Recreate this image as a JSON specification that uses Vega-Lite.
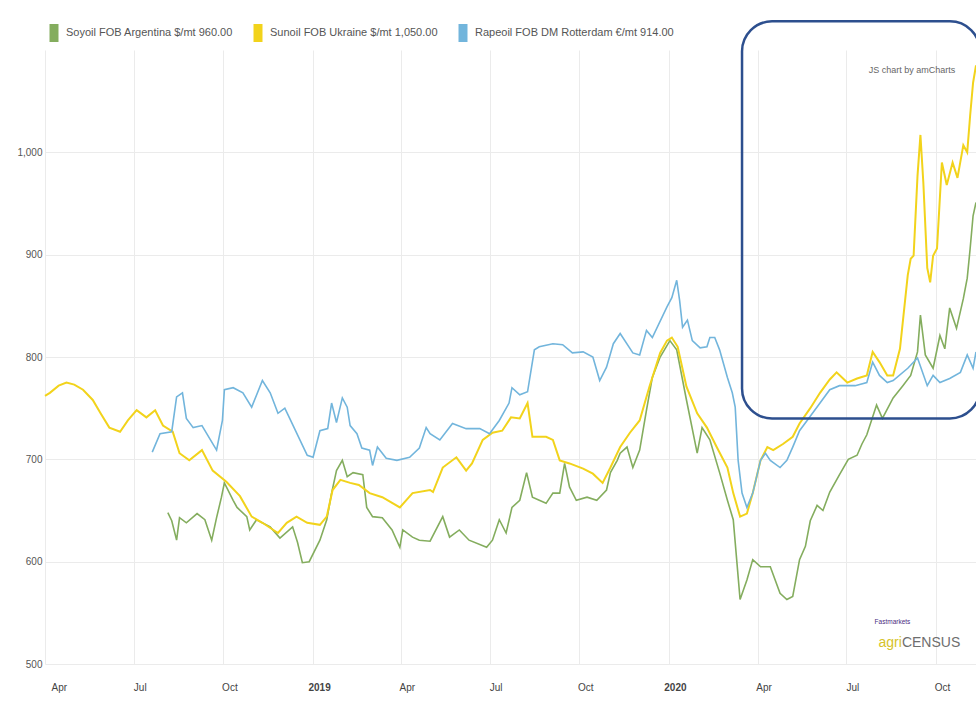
{
  "$schema": "https://vega.github.io/schema/vega-lite/v6.json",
  "width": 931,
  "height": 614,
  "autosize": {"type": "none"},
  "padding": {"left": 45, "top": 50, "right": 0, "bottom": 43},
  "background": "white",
  "config": {
    "view": {"stroke": null},
    "font": "Liberation Sans",
    "axis": {"labelFont": "Liberation Sans", "labelColor": "#555555", "labelFontSize": 10, "domain": false, "ticks": false, "gridColor": "#ebebeb", "gridWidth": 1, "title": null},
    "legend": {"labelFont": "Liberation Sans", "labelColor": "#555555", "labelFontSize": 11}
  },
  "datasets": {
    "soyoil": [
      {"date": "2018-08-05", "value": 648}, {"date": "2018-08-09", "value": 640}, {"date": "2018-08-14", "value": 621}, {"date": "2018-08-17", "value": 643},
      {"date": "2018-08-24", "value": 638}, {"date": "2018-09-04", "value": 647}, {"date": "2018-09-12", "value": 641}, {"date": "2018-09-19", "value": 621},
      {"date": "2018-09-24", "value": 643}, {"date": "2018-09-29", "value": 663}, {"date": "2018-10-02", "value": 677}, {"date": "2018-10-11", "value": 660},
      {"date": "2018-10-15", "value": 653}, {"date": "2018-10-25", "value": 644}, {"date": "2018-10-28", "value": 631}, {"date": "2018-11-04", "value": 641},
      {"date": "2018-11-18", "value": 634}, {"date": "2018-11-28", "value": 623}, {"date": "2018-12-11", "value": 634}, {"date": "2018-12-16", "value": 619},
      {"date": "2018-12-21", "value": 599}, {"date": "2018-12-28", "value": 600}, {"date": "2019-01-08", "value": 621}, {"date": "2019-01-15", "value": 641},
      {"date": "2019-01-20", "value": 667}, {"date": "2019-01-25", "value": 689}, {"date": "2019-01-31", "value": 699}, {"date": "2019-02-05", "value": 683},
      {"date": "2019-02-11", "value": 687}, {"date": "2019-02-21", "value": 685}, {"date": "2019-02-25", "value": 653}, {"date": "2019-03-03", "value": 644},
      {"date": "2019-03-13", "value": 643}, {"date": "2019-03-23", "value": 631}, {"date": "2019-03-31", "value": 614}, {"date": "2019-04-03", "value": 631},
      {"date": "2019-04-13", "value": 624}, {"date": "2019-04-20", "value": 621}, {"date": "2019-05-01", "value": 620}, {"date": "2019-05-14", "value": 644},
      {"date": "2019-05-21", "value": 624}, {"date": "2019-05-31", "value": 631}, {"date": "2019-06-10", "value": 621}, {"date": "2019-06-28", "value": 614},
      {"date": "2019-07-04", "value": 621}, {"date": "2019-07-11", "value": 641}, {"date": "2019-07-18", "value": 628}, {"date": "2019-07-24", "value": 653},
      {"date": "2019-08-01", "value": 660}, {"date": "2019-08-08", "value": 687}, {"date": "2019-08-14", "value": 663}, {"date": "2019-08-21", "value": 660},
      {"date": "2019-08-28", "value": 657}, {"date": "2019-09-04", "value": 667}, {"date": "2019-09-11", "value": 667}, {"date": "2019-09-16", "value": 696},
      {"date": "2019-09-21", "value": 673}, {"date": "2019-09-28", "value": 660}, {"date": "2019-10-09", "value": 663}, {"date": "2019-10-19", "value": 660},
      {"date": "2019-10-29", "value": 670}, {"date": "2019-11-02", "value": 687}, {"date": "2019-11-09", "value": 699}, {"date": "2019-11-12", "value": 706},
      {"date": "2019-11-19", "value": 712}, {"date": "2019-11-25", "value": 692}, {"date": "2019-12-02", "value": 709}, {"date": "2019-12-09", "value": 748},
      {"date": "2019-12-15", "value": 780}, {"date": "2019-12-23", "value": 800}, {"date": "2020-01-02", "value": 816}, {"date": "2020-01-09", "value": 807},
      {"date": "2020-01-19", "value": 758}, {"date": "2020-01-30", "value": 706}, {"date": "2020-02-04", "value": 731}, {"date": "2020-02-12", "value": 719},
      {"date": "2020-02-22", "value": 687}, {"date": "2020-03-01", "value": 660}, {"date": "2020-03-07", "value": 641}, {"date": "2020-03-14", "value": 563},
      {"date": "2020-03-21", "value": 582}, {"date": "2020-03-27", "value": 602}, {"date": "2020-04-04", "value": 595}, {"date": "2020-04-14", "value": 595},
      {"date": "2020-04-24", "value": 569}, {"date": "2020-05-01", "value": 563}, {"date": "2020-05-07", "value": 566}, {"date": "2020-05-14", "value": 602},
      {"date": "2020-05-20", "value": 615}, {"date": "2020-05-25", "value": 640}, {"date": "2020-06-01", "value": 655}, {"date": "2020-06-07", "value": 650},
      {"date": "2020-06-14", "value": 668}, {"date": "2020-06-24", "value": 685}, {"date": "2020-07-03", "value": 700}, {"date": "2020-07-12", "value": 704},
      {"date": "2020-07-17", "value": 715}, {"date": "2020-07-22", "value": 724}, {"date": "2020-08-01", "value": 753}, {"date": "2020-08-07", "value": 740},
      {"date": "2020-08-18", "value": 760}, {"date": "2020-08-28", "value": 772}, {"date": "2020-09-05", "value": 782}, {"date": "2020-09-12", "value": 805},
      {"date": "2020-09-15", "value": 841}, {"date": "2020-09-20", "value": 802}, {"date": "2020-09-28", "value": 789}, {"date": "2020-10-05", "value": 821},
      {"date": "2020-10-10", "value": 808}, {"date": "2020-10-15", "value": 848}, {"date": "2020-10-22", "value": 828}, {"date": "2020-10-29", "value": 857},
      {"date": "2020-11-02", "value": 877}, {"date": "2020-11-05", "value": 906}, {"date": "2020-11-08", "value": 938}, {"date": "2020-11-11", "value": 951}
    ],
    "sunoil": [
      {"date": "2018-04-01", "value": 762}, {"date": "2018-04-06", "value": 765}, {"date": "2018-04-15", "value": 772}, {"date": "2018-04-23", "value": 775},
      {"date": "2018-05-01", "value": 773}, {"date": "2018-05-10", "value": 768}, {"date": "2018-05-20", "value": 758}, {"date": "2018-05-28", "value": 745},
      {"date": "2018-06-06", "value": 731}, {"date": "2018-06-17", "value": 727}, {"date": "2018-06-25", "value": 738}, {"date": "2018-07-04", "value": 748},
      {"date": "2018-07-14", "value": 741}, {"date": "2018-07-23", "value": 748}, {"date": "2018-07-31", "value": 733}, {"date": "2018-08-10", "value": 727},
      {"date": "2018-08-17", "value": 706}, {"date": "2018-08-27", "value": 699}, {"date": "2018-09-09", "value": 709}, {"date": "2018-09-20", "value": 689},
      {"date": "2018-10-04", "value": 678}, {"date": "2018-10-18", "value": 664}, {"date": "2018-10-30", "value": 644}, {"date": "2018-11-10", "value": 638},
      {"date": "2018-11-26", "value": 628}, {"date": "2018-12-05", "value": 638}, {"date": "2018-12-15", "value": 644}, {"date": "2018-12-26", "value": 638},
      {"date": "2019-01-08", "value": 636}, {"date": "2019-01-15", "value": 644}, {"date": "2019-01-21", "value": 670}, {"date": "2019-01-29", "value": 680},
      {"date": "2019-02-08", "value": 677}, {"date": "2019-02-17", "value": 675}, {"date": "2019-02-28", "value": 667}, {"date": "2019-03-13", "value": 663},
      {"date": "2019-03-31", "value": 653}, {"date": "2019-04-13", "value": 667}, {"date": "2019-05-01", "value": 670}, {"date": "2019-05-04", "value": 668},
      {"date": "2019-05-14", "value": 692}, {"date": "2019-05-28", "value": 702}, {"date": "2019-06-07", "value": 689}, {"date": "2019-06-13", "value": 696},
      {"date": "2019-06-24", "value": 719}, {"date": "2019-07-04", "value": 726}, {"date": "2019-07-14", "value": 728}, {"date": "2019-07-23", "value": 741},
      {"date": "2019-08-01", "value": 740}, {"date": "2019-08-09", "value": 755}, {"date": "2019-08-14", "value": 722}, {"date": "2019-08-28", "value": 722},
      {"date": "2019-09-04", "value": 719}, {"date": "2019-09-11", "value": 699}, {"date": "2019-09-21", "value": 696}, {"date": "2019-10-05", "value": 691},
      {"date": "2019-10-15", "value": 686}, {"date": "2019-10-25", "value": 677}, {"date": "2019-11-02", "value": 692}, {"date": "2019-11-12", "value": 712},
      {"date": "2019-11-22", "value": 726}, {"date": "2019-12-02", "value": 738}, {"date": "2019-12-12", "value": 771}, {"date": "2019-12-23", "value": 804},
      {"date": "2019-12-30", "value": 816}, {"date": "2020-01-04", "value": 819}, {"date": "2020-01-10", "value": 810}, {"date": "2020-01-19", "value": 771},
      {"date": "2020-01-30", "value": 745}, {"date": "2020-02-09", "value": 731}, {"date": "2020-02-19", "value": 712}, {"date": "2020-03-01", "value": 692},
      {"date": "2020-03-07", "value": 667}, {"date": "2020-03-14", "value": 644}, {"date": "2020-03-21", "value": 647}, {"date": "2020-03-27", "value": 667},
      {"date": "2020-04-04", "value": 699}, {"date": "2020-04-11", "value": 712}, {"date": "2020-04-17", "value": 709}, {"date": "2020-04-27", "value": 715},
      {"date": "2020-05-07", "value": 722}, {"date": "2020-05-14", "value": 735}, {"date": "2020-05-25", "value": 750}, {"date": "2020-06-04", "value": 765},
      {"date": "2020-06-14", "value": 778}, {"date": "2020-06-21", "value": 785}, {"date": "2020-07-02", "value": 775}, {"date": "2020-07-12", "value": 779},
      {"date": "2020-07-22", "value": 782}, {"date": "2020-07-28", "value": 805}, {"date": "2020-08-04", "value": 795}, {"date": "2020-08-12", "value": 782},
      {"date": "2020-08-18", "value": 782}, {"date": "2020-08-25", "value": 808}, {"date": "2020-09-02", "value": 880}, {"date": "2020-09-05", "value": 896},
      {"date": "2020-09-08", "value": 899}, {"date": "2020-09-12", "value": 977}, {"date": "2020-09-15", "value": 1017}, {"date": "2020-09-18", "value": 970},
      {"date": "2020-09-22", "value": 887}, {"date": "2020-09-25", "value": 873}, {"date": "2020-09-28", "value": 899}, {"date": "2020-10-02", "value": 906},
      {"date": "2020-10-07", "value": 990}, {"date": "2020-10-12", "value": 968}, {"date": "2020-10-18", "value": 990}, {"date": "2020-10-23", "value": 975},
      {"date": "2020-10-29", "value": 1007}, {"date": "2020-11-02", "value": 1000}, {"date": "2020-11-05", "value": 1036}, {"date": "2020-11-08", "value": 1068},
      {"date": "2020-11-11", "value": 1085}
    ],
    "rapeoil": [
      {"date": "2018-07-20", "value": 707}, {"date": "2018-07-28", "value": 725}, {"date": "2018-08-09", "value": 727}, {"date": "2018-08-14", "value": 761},
      {"date": "2018-08-20", "value": 765}, {"date": "2018-08-24", "value": 740}, {"date": "2018-08-31", "value": 731}, {"date": "2018-09-09", "value": 733},
      {"date": "2018-09-24", "value": 709}, {"date": "2018-09-30", "value": 738}, {"date": "2018-10-02", "value": 768}, {"date": "2018-10-11", "value": 770},
      {"date": "2018-10-21", "value": 765}, {"date": "2018-10-30", "value": 751}, {"date": "2018-11-10", "value": 777}, {"date": "2018-11-18", "value": 765},
      {"date": "2018-11-26", "value": 745}, {"date": "2018-12-03", "value": 750}, {"date": "2018-12-08", "value": 740}, {"date": "2018-12-26", "value": 704},
      {"date": "2019-01-01", "value": 702}, {"date": "2019-01-08", "value": 728}, {"date": "2019-01-16", "value": 730}, {"date": "2019-01-20", "value": 755},
      {"date": "2019-01-25", "value": 736}, {"date": "2019-01-31", "value": 760}, {"date": "2019-02-05", "value": 751}, {"date": "2019-02-08", "value": 733},
      {"date": "2019-02-15", "value": 725}, {"date": "2019-02-20", "value": 711}, {"date": "2019-02-28", "value": 709}, {"date": "2019-03-03", "value": 694},
      {"date": "2019-03-08", "value": 712}, {"date": "2019-03-17", "value": 701}, {"date": "2019-03-28", "value": 699}, {"date": "2019-04-10", "value": 702},
      {"date": "2019-04-20", "value": 711}, {"date": "2019-04-27", "value": 731}, {"date": "2019-05-01", "value": 725}, {"date": "2019-05-11", "value": 719},
      {"date": "2019-05-24", "value": 735}, {"date": "2019-06-07", "value": 730}, {"date": "2019-06-21", "value": 730}, {"date": "2019-07-01", "value": 725},
      {"date": "2019-07-11", "value": 738}, {"date": "2019-07-21", "value": 755}, {"date": "2019-07-24", "value": 770}, {"date": "2019-08-01", "value": 763},
      {"date": "2019-08-09", "value": 766}, {"date": "2019-08-16", "value": 807}, {"date": "2019-08-21", "value": 810}, {"date": "2019-09-04", "value": 813},
      {"date": "2019-09-14", "value": 812}, {"date": "2019-09-24", "value": 804}, {"date": "2019-10-05", "value": 805}, {"date": "2019-10-15", "value": 800},
      {"date": "2019-10-22", "value": 777}, {"date": "2019-10-29", "value": 790}, {"date": "2019-11-05", "value": 813}, {"date": "2019-11-12", "value": 823},
      {"date": "2019-11-25", "value": 804}, {"date": "2019-12-02", "value": 802}, {"date": "2019-12-09", "value": 826}, {"date": "2019-12-15", "value": 819},
      {"date": "2019-12-30", "value": 849}, {"date": "2020-01-04", "value": 858}, {"date": "2020-01-09", "value": 875}, {"date": "2020-01-12", "value": 855},
      {"date": "2020-01-15", "value": 829}, {"date": "2020-01-20", "value": 836}, {"date": "2020-01-25", "value": 816}, {"date": "2020-02-02", "value": 809},
      {"date": "2020-02-09", "value": 810}, {"date": "2020-02-12", "value": 819}, {"date": "2020-02-17", "value": 819}, {"date": "2020-02-22", "value": 807},
      {"date": "2020-03-01", "value": 780}, {"date": "2020-03-06", "value": 765}, {"date": "2020-03-09", "value": 751}, {"date": "2020-03-12", "value": 699},
      {"date": "2020-03-16", "value": 667}, {"date": "2020-03-21", "value": 653}, {"date": "2020-03-27", "value": 667}, {"date": "2020-04-04", "value": 699},
      {"date": "2020-04-09", "value": 706}, {"date": "2020-04-14", "value": 699}, {"date": "2020-04-24", "value": 692}, {"date": "2020-05-01", "value": 699},
      {"date": "2020-05-07", "value": 712}, {"date": "2020-05-14", "value": 728}, {"date": "2020-05-25", "value": 742}, {"date": "2020-06-04", "value": 755},
      {"date": "2020-06-14", "value": 768}, {"date": "2020-06-24", "value": 772}, {"date": "2020-07-10", "value": 772}, {"date": "2020-07-22", "value": 775},
      {"date": "2020-07-28", "value": 795}, {"date": "2020-08-04", "value": 782}, {"date": "2020-08-12", "value": 775}, {"date": "2020-08-18", "value": 777},
      {"date": "2020-09-02", "value": 789}, {"date": "2020-09-12", "value": 799}, {"date": "2020-09-22", "value": 772}, {"date": "2020-09-28", "value": 782},
      {"date": "2020-10-05", "value": 775}, {"date": "2020-10-15", "value": 779}, {"date": "2020-10-26", "value": 785}, {"date": "2020-11-02", "value": 802},
      {"date": "2020-11-08", "value": 789}, {"date": "2020-11-11", "value": 805}
    ],
    "box": [{"start": "2020-03-16", "end": "2020-11-15", "low": 740, "high": 1128}],
    "notes": [
      {"date": "2020-07-24", "value": 1080, "text": "JS chart by amCharts"}
    ],
    "logo_left": [
      {"date": "2020-07-30", "value": 541, "text": "Fastmarkets", "kind": "fm"},
      {"date": "2020-08-27", "value": 521, "text": "CENSUS", "kind": "census"}
    ],
    "logo_right": [
      {"date": "2020-08-27", "value": 521, "text": "agri"}
    ]
  },
  "layer": [
    {
      "data": {"name": "soyoil"},
      "mark": {"type": "line", "strokeWidth": 1.6},
      "encoding": {
        "x": {"field": "date", "type": "temporal",
          "scale": {"type": "utc", "domain": ["2018-04-01", "2020-11-11"]},
          "axis": {"tickCount": {"interval": "month", "step": 3}, "labelExpr": "utcmonth(datum.value) == 0 ? utcFormat(datum.value, '%Y') : utcFormat(datum.value, '%b')",
            "labelFontWeight": {"condition": {"test": "utcmonth(datum.value) == 0", "value": "bold"}, "value": "normal"},
            "labelPadding": 18, "labelOffset": 6, "labelColor": "#444444"}},
        "y": {"field": "value", "type": "quantitative",
          "scale": {"domain": [500, 1100], "zero": false, "nice": false},
          "axis": {"values": [500, 600, 700, 800, 900, 1000], "format": ",d", "labelPadding": 3}},
        "color": {"datum": "Soyoil FOB Argentina $/mt 960.00", "type": "nominal",
          "scale": {"domain": ["Soyoil FOB Argentina $/mt 960.00", "Sunoil FOB Ukraine $/mt 1,050.00", "Rapeoil FOB DM Rotterdam €/mt 914.00"], "range": ["#84ad5e", "#f2d31b", "#72b5dc"]},
          "legend": {"title": null, "orient": "top", "direction": "horizontal", "offset": 8, "symbolType": "M-0.5,-1L0.5,-1L0.5,1L-0.5,1Z", "symbolSize": 324, "labelLimit": 400, "columnPadding": 16, "labelOffset": 3, "padding": 0,
            "encode": {"symbols": {"update": {"fill": {"scale": "color", "field": "value"}, "strokeWidth": {"value": 0}, "opacity": {"value": 1}}}}}}
      }
    },
    {
      "data": {"name": "sunoil"},
      "mark": {"type": "line", "strokeWidth": 2},
      "encoding": {
        "x": {"field": "date", "type": "temporal"},
        "y": {"field": "value", "type": "quantitative"},
        "color": {"datum": "Sunoil FOB Ukraine $/mt 1,050.00", "type": "nominal"}
      }
    },
    {
      "data": {"name": "rapeoil"},
      "mark": {"type": "line", "strokeWidth": 1.6},
      "encoding": {
        "x": {"field": "date", "type": "temporal"},
        "y": {"field": "value", "type": "quantitative"},
        "color": {"datum": "Rapeoil FOB DM Rotterdam €/mt 914.00", "type": "nominal"}
      }
    },
    {
      "data": {"name": "notes"},
      "mark": {"type": "text", "align": "left", "baseline": "middle", "fontSize": 9, "color": "#666666"},
      "encoding": {
        "x": {"field": "date", "type": "temporal"},
        "y": {"field": "value", "type": "quantitative"},
        "text": {"field": "text"}
      }
    },
    {
      "data": {"name": "logo_left"},
      "mark": {"type": "text", "align": "left", "baseline": "middle"},
      "encoding": {
        "x": {"field": "date", "type": "temporal"},
        "y": {"field": "value", "type": "quantitative"},
        "text": {"field": "text"},
        "size": {"condition": {"test": "datum.kind == 'fm'", "value": 6.5}, "value": 14},
        "color": {"condition": {"test": "datum.kind == 'fm'", "value": "#4b2c7f"}, "value": "#6e6e6e"}
      }
    },
    {
      "data": {"name": "logo_right"},
      "mark": {"type": "text", "align": "right", "baseline": "middle", "fontSize": 14, "color": "#d6c32a"},
      "encoding": {
        "x": {"field": "date", "type": "temporal"},
        "y": {"field": "value", "type": "quantitative"},
        "text": {"field": "text"}
      }
    },
    {
      "data": {"name": "box"},
      "mark": {"type": "rect", "fill": "transparent", "stroke": "#2d4f8e", "strokeWidth": 2.5, "cornerRadius": 30},
      "encoding": {
        "x": {"field": "start", "type": "temporal"},
        "x2": {"field": "end"},
        "y": {"field": "high", "type": "quantitative"},
        "y2": {"field": "low"}
      }
    }
  ]
}
